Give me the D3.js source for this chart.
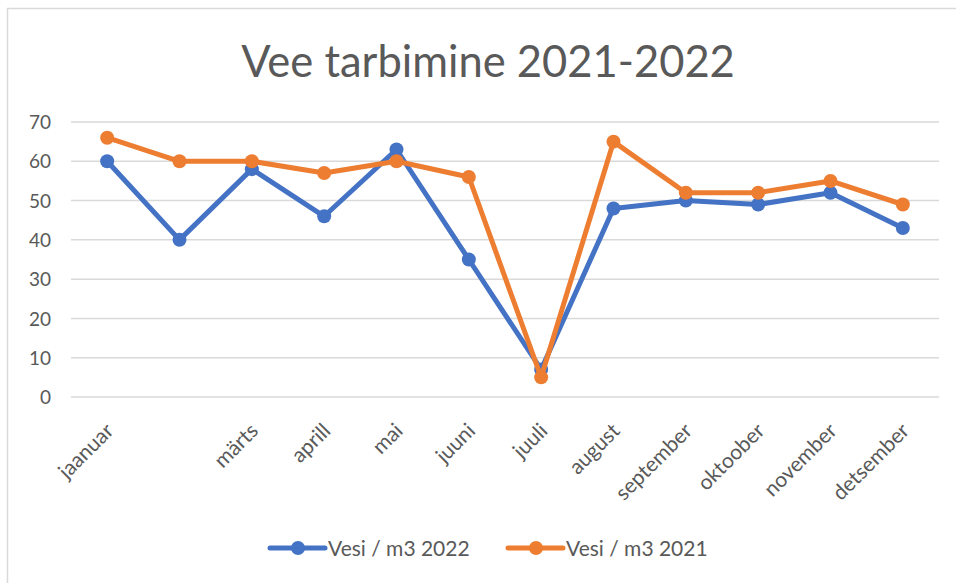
<!DOCTYPE html>
<meta charset="utf-8">
<head>
    <style>
        body { margin: 0; background: #fff; }
        text { font-family: Lato, "Open Sans", sans-serif; fill: #595959; }
        .grid line { stroke: #d9d9d9; stroke-width: 1.5px; }
    </style>
    <script src="https://d3js.org/d3.v7.min.js"></script>
</head>
<body>
<script>
    const width = 956
    const height = 583

    const months = ["jaanuar", "veebruar", "märts", "aprill", "mai", "juuni", "juuli", "august", "september", "oktoober", "november", "detsember"]
    const monthLabels = ["jaanuar", "", "märts", "aprill", "mai", "juuni", "juuli", "august", "september", "oktoober", "november", "detsember"]
    const vesi2022 = [60, 40, 58, 46, 63, 35, 7, 48, 50, 49, 52, 43]
    const vesi2021 = [66, 60, 60, 57, 60, 56, 5, 65, 52, 52, 55, 49]
    const yTicks = [0, 10, 20, 30, 40, 50, 60, 70]
    const seriesNames = ["Vesi / m3 2022", "Vesi / m3 2021"]
    const colors = ["#4472c4", "#ed7d31"]

    const plot = { left: 71, right: 939, top: 122, bottom: 397 }

    const x = d3.scalePoint()
        .domain(months)
        .range([plot.left, plot.right])
        .padding(0.5)

    const y = d3.scaleLinear()
        .domain([0, 70])
        .range([plot.bottom, plot.top])

    const svg = d3.select("body").append("svg")
        .attr("width", width)
        .attr("height", height)

    svg.append("rect")
        .attr("x", 7.5).attr("y", 8.5)
        .attr("width", 1000).attr("height", 700)
        .attr("fill", "none")
        .attr("stroke", "#d9d9d9")
        .attr("stroke-width", 1.5)

    svg.append("text")
        .attr("x", 488).attr("y", 77)
        .attr("text-anchor", "middle")
        .style("font-size", "43.5px")
        .text("Vee tarbimine 2021-2022")

    // horizontal gridlines
    svg.append("g").attr("class", "grid")
        .selectAll("line")
        .data(yTicks)
        .join("line")
        .attr("x1", plot.left).attr("x2", plot.right)
        .attr("y1", d => y(d)).attr("y2", d => y(d))

    const yAxis = svg.append("g")
        .attr("transform", `translate(${plot.left - 20},0)`)
        .call(d3.axisLeft(y).tickValues(yTicks).tickSize(0).tickPadding(0))
    yAxis.select(".domain").remove()
    yAxis.selectAll("text")
        .style("font-size", "19px")
        .attr("fill", "#595959")
        .attr("dy", "0.35em")

    const xAxis = svg.append("g")
        .attr("transform", `translate(0,${plot.bottom})`)
        .call(d3.axisBottom(x).tickSize(0).tickFormat((d, i) => monthLabels[i]))
    xAxis.select(".domain").remove()
    xAxis.selectAll("text")
        .style("font-size", "21px")
        .attr("fill", "#595959")
        .attr("text-anchor", "end")
        .attr("dy", 0)
        .attr("transform", "translate(5,33) rotate(-45)")

    const line = d3.line()
        .x((d, i) => x(months[i]))
        .y(d => y(d))

    const allSeries = [vesi2022, vesi2021]

    allSeries.forEach((values, s) => {
        const g = svg.append("g")
        g.append("path")
            .datum(values)
            .attr("fill", "none")
            .attr("stroke", colors[s])
            .attr("stroke-width", 5)
            .attr("stroke-linejoin", "round")
            .attr("d", line)
        g.selectAll("circle")
            .data(values)
            .join("circle")
            .attr("cx", (d, i) => x(months[i]))
            .attr("cy", d => y(d))
            .attr("r", 7)
            .attr("fill", colors[s])
    })

    // legend
    const legendX = [270, 508]
    const legend = svg.append("g")
    seriesNames.forEach((name, s) => {
        const lg = legend.append("g").attr("transform", `translate(${legendX[s]},548)`)
        lg.append("line")
            .attr("x1", 0).attr("x2", 55)
            .attr("stroke", colors[s])
            .attr("stroke-width", 5)
            .attr("stroke-linecap", "round")
        lg.append("circle").attr("cx", 28).attr("r", 7).attr("fill", colors[s])
        lg.append("text")
            .attr("x", 58).attr("y", 7.5)
            .style("font-size", "21px")
            .text(name)
    })
</script>
</body>
